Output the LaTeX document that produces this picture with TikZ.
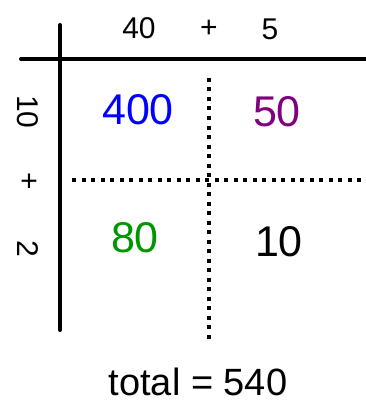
\documentclass[tikz,border=0pt]{standalone}
\usepackage{fontspec}
\setmainfont{Liberation Sans}
\usetikzlibrary{positioning}
\definecolor{partblue}{RGB}{0,0,255}
\definecolor{partpurple}{RGB}{128,0,128}
\definecolor{partgreen}{RGB}{0,150,0}

\begin{document}
\begin{tikzpicture}[x=1pt,y=-1pt,
  axis/.style={line width=4pt,line cap=round},
  split/.style={line width=4pt,dash pattern=on 4pt off 5.5pt},
  factor/.style={font=\fontsize{30}{30}\selectfont,inner sep=0pt},
  part/.style={font=\fontsize{43}{43}\selectfont,inner sep=0pt}]
  \useasboundingbox (0,0) rectangle (366,401);

  % grid corners
  \coordinate (hl) at (21,59);
  \coordinate (hr) at (366,59);
  \coordinate (vt) at (60,25);
  \coordinate (vb) at (60,330);
  \coordinate (dt) at (209,78);
  \coordinate (db) at (209,342);
  \coordinate (dl) at (72,180);
  \coordinate (dr) at (366,180);

  \draw[axis] (hl) -- (hr);
  \draw[axis] (vt) -- (vb);
  \draw[split] (dt) -- (db);
  \draw[split] (dl) -- (dr);

  % factors
  \node[factor] (tens) at (139,28) {40};
  \node[factor] (tplus) at (209,29) {+};
  \node[factor] (ones) at (270,29) {5};
  \node[factor,rotate=-90] (ltens) at (28,112) {10};
  \node[factor,rotate=-90] (lplus) at (28,181) {+};
  \node[factor,rotate=-90] (lones) at (28,249) {2};

  % partial products
  \node[part,partblue] (p400) at (138,110) {400};
  \node[part,partpurple] (p50) at (277,112) {50};
  \node[part,partgreen] (p80) at (135,238) {80};
  \node[part] (p10) at (279,242) {10};

  \node[font=\fontsize{38}{38}\selectfont,inner sep=0pt] (total) at (198,382) {total = 540};
\end{tikzpicture}
\end{document}
